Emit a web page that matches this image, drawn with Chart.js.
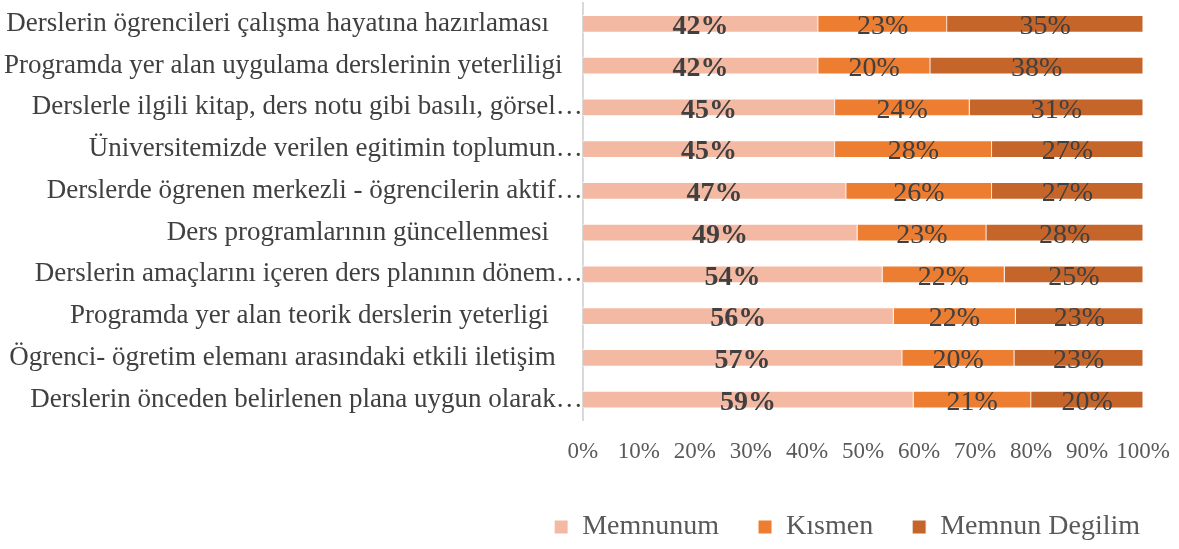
<!DOCTYPE html>
<html>
<head>
<meta charset="utf-8">
<script src="https://cdn.jsdelivr.net/npm/chart.js@4.4.1/dist/chart.umd.min.js"></script>
<style>
  html, body { margin: 0; padding: 0; background: #fff; }
</style>
</head>
<body>
<canvas id="chart" width="1179" height="549"></canvas>
<script>
var kategoriler = [
    "Derslerin ögrencileri çalışma hayatına hazırlaması     ",
    "Programda yer alan uygulama derslerinin yeterliligi   ",
    "Derslerle ilgili kitap, ders notu gibi basılı, görsel…",
    "Üniversitemizde verilen egitimin toplumun…",
    "Derslerde ögrenen merkezli - ögrencilerin aktif…",
    "Ders programlarının güncellenmesi     ",
    "Derslerin amaçlarını içeren ders planının dönem…",
    "Programda yer alan teorik derslerin yeterligi     ",
    "Ögrenci- ögretim elemanı arasındaki etkili iletişim    ",
    "Derslerin önceden belirlenen plana uygun olarak…"
];
var memnunum = [42, 42, 45, 45, 47, 49, 54, 56, 57, 59];
var kismen = [23, 20, 24, 28, 26, 23, 22, 22, 20, 21];
var memnunDegilim = [35, 38, 31, 27, 27, 28, 25, 23, 23, 20];
var eksenEtiketleri = ["0%", "10%", "20%", "30%", "40%", "50%", "60%", "70%", "80%", "90%", "100%"];

// 100% yigilmis: her satiri toplamina gore olcekle
function yuzde(seri) {
    return seri.map(function (v, i) {
        return v * 100 / (memnunum[i] + kismen[i] + memnunDegilim[i]);
    });
}

var etiketPlugin = {
    id: 'etiketler',
    afterDatasetsDraw: function (chart) {
        var ctx = chart.ctx;
        ctx.save();
        ctx.fillStyle = '#404040';
        ctx.textAlign = 'center';
        ctx.textBaseline = 'middle';
        chart.data.datasets.forEach(function (ds, di) {
            var meta = chart.getDatasetMeta(di);
            ctx.font = (di === 0 ? 'bold ' : '') + '28px "Liberation Serif"';
            meta.data.forEach(function (bar, i) {
                var x = (bar.x + bar.base) / 2;
                ctx.fillText(ds.ham[i] + '%', x, bar.y + 3);
            });
        });
        ctx.restore();
    }
};

// legend yuksekligini kis, ogeler asagi kaysin
var legendYukseklik = {
    id: 'legendYukseklik',
    beforeInit: function (chart) {
        var fit = chart.legend.fit;
        chart.legend.fit = function () {
            fit.bind(chart.legend)();
            this.height = 75;
        };
    }
};

new Chart(document.getElementById("chart"), {
    type: 'bar',
    data: {
        labels: kategoriler,
        datasets: [{
            label: "Memnunum",
            data: yuzde(memnunum),
            ham: memnunum,
            backgroundColor: "#F4B9A3",
            borderColor: "#fff",
            borderWidth: 1,
            barThickness: 17
        }, {
            label: "Kısmen",
            data: yuzde(kismen),
            ham: kismen,
            backgroundColor: "#ED7D31",
            borderColor: "#fff",
            borderWidth: 1,
            barThickness: 17
        }, {
            label: "Memnun Degilim",
            data: yuzde(memnunDegilim),
            ham: memnunDegilim,
            backgroundColor: "#C5652A",
            borderColor: "#fff",
            borderWidth: 1,
            barThickness: 17
        }]
    },
    options: {
        indexAxis: 'y',
        responsive: false,
        animation: false,
        layout: { padding: { top: 3, right: 0, bottom: 0, left: 4 } },
        scales: {
            x: {
                stacked: true,
                min: 0,
                max: 100,
                grid: { display: false, drawTicks: false },
                border: { display: false },
                afterFit: function (s) {
                    s.height -= 9.5;
                    s.paddingRight -= 11;
                },
                ticks: {
                    stepSize: 10,
                    padding: 20,
                    maxRotation: 0,
                    minRotation: 0,
                    autoSkip: false,
                    color: '#595959',
                    font: { family: 'Liberation Serif', size: 23, lineHeight: 1 },
                    callback: function (v) { return eksenEtiketleri[v / 10]; }
                }
            },
            y: {
                stacked: true,
                grid: { display: false, drawTicks: false },
                border: { display: true, color: '#d9d9d9', width: 2 },
                ticks: {
                    padding: 0,
                    color: '#404040',
                    font: { family: 'Liberation Serif', size: 27, lineHeight: 0.1 }
                }
            }
        },
        plugins: {
            legend: {
                position: 'bottom',
                align: 'end',
                labels: {
                    boxWidth: 14,
                    boxHeight: 14,
                    padding: 39,
                    color: '#595959',
                    font: { family: 'Liberation Serif', size: 28 }
                }
            },
            tooltip: { enabled: false }
        }
    },
    plugins: [etiketPlugin, legendYukseklik]
});
</script>
</body>
</html>
